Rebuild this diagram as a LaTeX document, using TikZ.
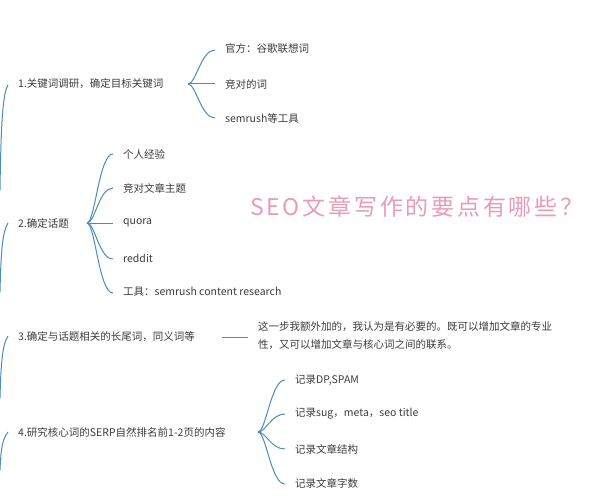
\documentclass[tikz,border=0pt]{standalone}
\usepackage{fontspec}
\setmainfont{Noto Sans CJK SC}
\newfontfamily\titlefont[LetterSpace=12]{Noto Sans CJK SC}
\definecolor{branch}{HTML}{4A8DBE}
\definecolor{txt}{HTML}{3C3C3C}
\definecolor{pinktitle}{HTML}{E79CBC}
\begin{document}
\begin{tikzpicture}[x=1pt,y=-1pt,
  lbl/.style={anchor=west, inner sep=0pt, text=txt, font=\fontsize{10.5}{13}\selectfont},
  br/.style={draw=branch, line width=1pt},
  fan/.style={br},
]
\useasboundingbox[fill=white] (0,0) rectangle (615,500);

% ---------- main labels ----------
\node[lbl] (k1) at (18,84) {1.关键词调研，确定目标关键词};
\node[lbl] (k2) at (18,223) {2.确定话题};
\node[lbl] (k3) at (18,337) {3.确定与话题相关的长尾词，同义词等};
\node[lbl] (k4) at (18,432) {4.研究核心词的SERP自然排名前1-2页的内容};

% ---------- root curves from the left edge ----------
\coordinate (r1) at (0,190);
\coordinate (r2) at (0,292);
\coordinate (r3) at (0,398);
\coordinate (r4) at (0,470);
\coordinate (t1) at (8,85);
\coordinate (t2) at (8,223);
\coordinate (t3) at (8,336);
\coordinate (t4) at (8,432);
\draw[br] (r1) .. controls +(1,-70) and +(-5,8) .. (t1);
\draw[br] (r2) .. controls +(1,-45) and +(-5,8) .. (t2);
\draw[br] (r3) .. controls +(1,-40) and +(-5,8) .. (t3);
\draw[br] (r4) .. controls +(1,-25) and +(-5,7) .. (t4);

% ---------- branch 1 ----------
\coordinate (b1) at (188,84);
\node[lbl] (c11) at (225,49) {官方：谷歌联想词};
\node[lbl] (c12) at (225,84) {竞对的词};
\node[lbl] (c13) at (225,118) {semrush等工具};
\coordinate (e11) at (215,50);
\coordinate (e12) at (215,84);
\coordinate (e13) at (215,118);
\draw[fan] (b1) .. controls +(8,0) and +(-14,0) .. (e11);
\draw[fan] (b1) -- (e12);
\draw[fan] (b1) .. controls +(8,0) and +(-14,0) .. (e13);

% ---------- branch 2 ----------
\coordinate (b2) at (87,223);
\node[lbl] (c21) at (123,154) {个人经验};
\node[lbl] (c22) at (123,188) {竞对文章主题};
\node[lbl] (c23) at (123,223) {quora};
\node[lbl] (c24) at (123,258) {reddit};
\node[lbl] (c25) at (123,292) {工具：semrush content research};
\coordinate (e21) at (113,154);
\coordinate (e22) at (113,188);
\coordinate (e23) at (113,223);
\coordinate (e24) at (113,259);
\coordinate (e25) at (113,293);
\draw[fan] (b2) .. controls +(8,0) and +(-14,0) .. (e21);
\draw[fan] (b2) .. controls +(8,0) and +(-14,0) .. (e22);
\draw[fan] (b2) -- (e23);
\draw[fan] (b2) .. controls +(8,0) and +(-14,0) .. (e24);
\draw[fan] (b2) .. controls +(8,0) and +(-14,0) .. (e25);

% ---------- branch 3 ----------
\coordinate (b3) at (222,337);
\coordinate (e3) at (248,337);
\node[lbl, align=left, font=\fontsize{10.5}{18}\selectfont] (c31) at (258,336)
  {这一步我额外加的，我认为是有必要的。既可以增加文章的专业\\性，又可以增加文章与核心词之间的联系。};
\draw[br] (b3) -- (e3);

% ---------- branch 4 ----------
\coordinate (b4) at (258,432);
\node[lbl] (c41) at (295,380) {记录DP,SPAM};
\node[lbl] (c42) at (295,414) {记录sug，meta，seo title};
\node[lbl] (c43) at (295,449) {记录文章结构};
\node[lbl] (c44) at (295,483) {记录文章字数};
\coordinate (e41) at (285,380);
\coordinate (e42) at (285,414);
\coordinate (e43) at (285,449);
\coordinate (e44) at (285,484);
\draw[fan] (b4) .. controls +(8,0) and +(-14,0) .. (e41);
\draw[fan] (b4) .. controls +(8,0) and +(-14,0) .. (e42);
\draw[fan] (b4) .. controls +(8,0) and +(-14,0) .. (e43);
\draw[fan] (b4) .. controls +(8,0) and +(-14,0) .. (e44);

% ---------- title ----------
\node[anchor=west, inner sep=0pt, text=pinktitle,
      font=\titlefont\fontsize{23}{26}\selectfont] (title) at (250,207)
  {SEO文章写作的要点有哪些？};
\end{tikzpicture}
\end{document}
